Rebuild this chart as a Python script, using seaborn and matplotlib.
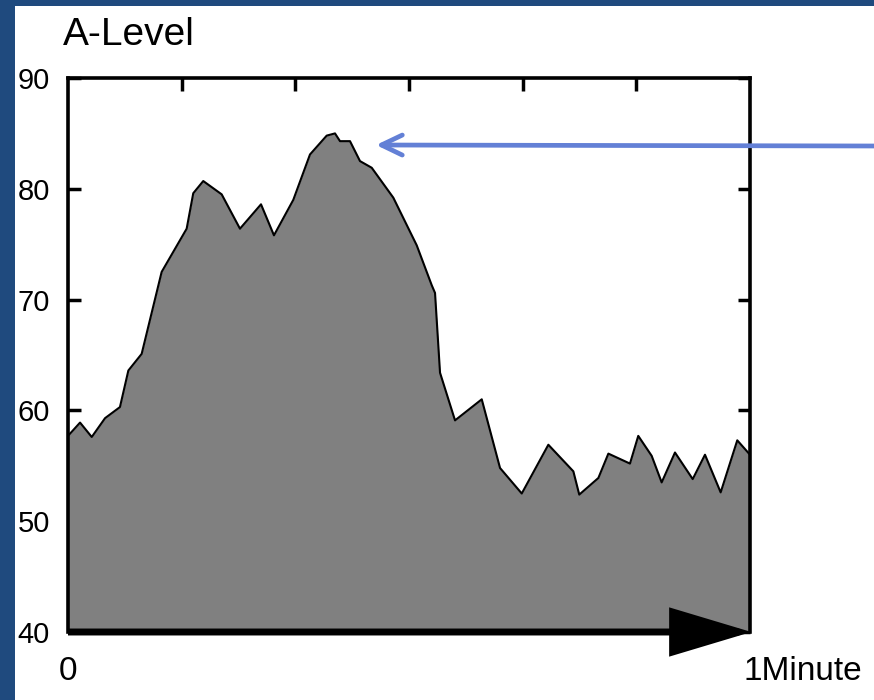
import matplotlib
matplotlib.use('Agg')
import matplotlib.pyplot as plt
from matplotlib.patches import Rectangle
import seaborn as sns
import pandas as pd

# A-level trace over one minute (seconds, level)
seconds = [0.0, 1.06, 2.09, 3.26, 4.57, 5.31, 6.48, 8.24, 10.44, 11.02, 11.90,
           13.52, 15.13, 16.98, 18.12, 19.82, 21.29, 22.76, 23.49, 23.93, 24.81,
           25.69, 26.72, 28.62, 30.68, 32.0, 32.29, 32.73, 34.05, 36.40, 38.01,
           39.92, 42.26, 44.46, 44.98, 46.66, 47.54, 49.44, 50.17, 51.35, 52.23,
           53.40, 54.96, 56.04, 57.42, 58.88, 60.0]
level = [57.7, 58.9, 57.6, 59.3, 60.3, 63.6, 65.1, 72.5, 76.4, 79.6, 80.7,
         79.5, 76.4, 78.6, 75.8, 79.0, 83.1, 84.8, 85.0, 84.3, 84.3,
         82.5, 81.9, 79.2, 74.9, 71.3, 70.6, 63.4, 59.1, 61.0, 54.8,
         52.5, 56.9, 54.5, 52.4, 53.9, 56.1, 55.2, 57.7, 55.9, 53.5,
         56.2, 53.8, 56.0, 52.6, 57.3, 56.0]
y_ticks = [40, 50, 60, 70, 80, 90]
x_ticks = [10, 20, 30, 40, 50]

df = pd.DataFrame({'t': seconds, 'level': level})

sns.set_theme(style='white')
plt.rcParams['font.family'] = ['Liberation Sans', 'DejaVu Sans']

fig = plt.figure(figsize=(8.74, 7), dpi=100)
fig.patch.set_facecolor('#1f4a7e')
fig.patches.append(Rectangle((15 / 874, 0), 1, 1 - 6 / 700, transform=fig.transFigure,
                             facecolor='white', edgecolor='none', zorder=-5))

ax = fig.add_axes([68 / 874, 68 / 700, 682 / 874, 554 / 700])
ax.set_facecolor('none')
ax.set_zorder(1)

ax.fill_between(df['t'], 40, df['level'], color='#808080', linewidth=0, zorder=1)
sns.lineplot(data=df, x='t', y='level', color='black', lw=1.5, ax=ax, zorder=2)

ax.set_xlim(0, 60)
ax.set_ylim(40, 90)
ax.set_xlabel('')
ax.set_ylabel('')

for side in ['left', 'top', 'right']:
    ax.spines[side].set_visible(True)
    ax.spines[side].set_color('black')
    ax.spines[side].set_linewidth(2.6)
ax.spines['bottom'].set_visible(False)

ax.set_yticks(y_ticks)
ax.set_yticklabels([str(v) for v in y_ticks])
ax.tick_params(axis='y', direction='in', left=True, right=True, length=9, width=2.5,
               labelsize=21, pad=13, colors='black')
ax.set_xticks(x_ticks)
ax.tick_params(axis='x', direction='in', top=True, bottom=False, labeltop=False,
               labelbottom=False, length=9, width=2.5, colors='black')

# thick time arrow along the bottom
ax.annotate('', xy=(60.12, 40), xytext=(0, 40), annotation_clip=False,
            arrowprops=dict(arrowstyle='-|>,head_length=2.4,head_width=0.72',
                            lw=5, color='black', shrinkA=0, shrinkB=0,
                            mutation_scale=20, joinstyle='miter', capstyle='butt'))

ax.text(0, -0.072, '0', transform=ax.get_xaxis_transform(), ha='center',
        va='center', fontsize=24, color='black')
ax.text(59.4, -0.072, '1Minute', transform=ax.get_xaxis_transform(), ha='left',
        va='center', fontsize=24, color='black', clip_on=False)

fig.text(63 / 874, 1 - 45 / 700, 'A-Level', ha='left', va='baseline',
         fontsize=28, color='black')

# pointer to the peak
ax.annotate('', xy=(376 / 874, 1 - 145 / 700), xycoords='figure fraction',
            xytext=(1.0, 1 - 146 / 700), textcoords='figure fraction',
            annotation_clip=False,
            arrowprops=dict(arrowstyle='->,head_length=0.75,head_width=0.36',
                            lw=3.4, color='#6380d6', shrinkA=0, shrinkB=0,
                            mutation_scale=20, capstyle='round', joinstyle='round'))

fig.savefig('out.png', dpi=100, facecolor=fig.get_facecolor())
